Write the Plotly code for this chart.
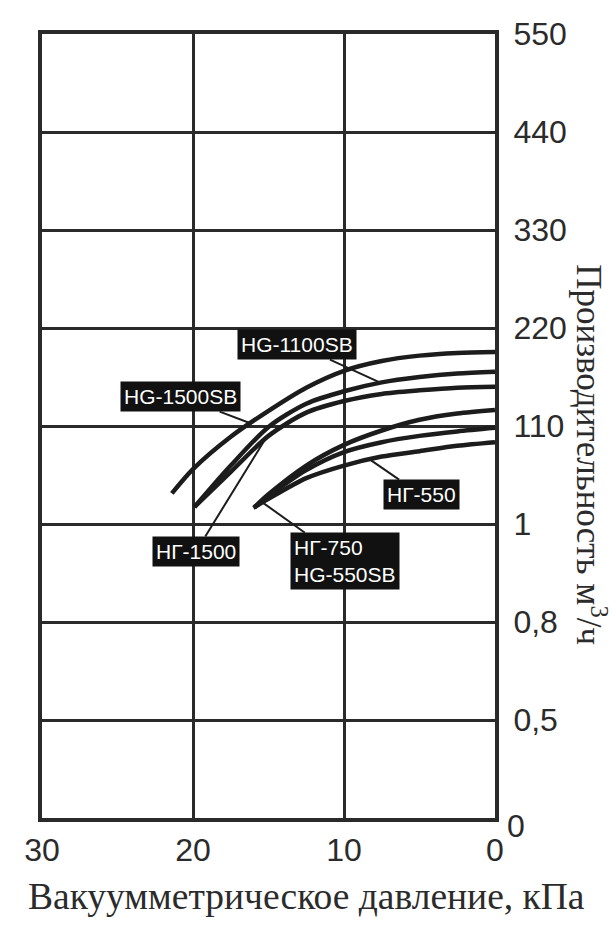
import numpy as np
import plotly.graph_objects as go

# Flow-rate axis: the labels are spaced evenly, not proportionally
flow_ticks = [0, 0.5, 0.8, 1, 110, 220, 330, 440, 550]
flow_tick_text = ["", "0,5", "0,8", "1", "110", "220", "330", "440", "550"]
pressure_ticks = [30, 20, 10, 0]

# Pump curves: vacuum pressure (kPa) -> capacity (m³/h)
hg1500sb_p = [21.4, 20, 17.5, 15, 12.5, 10, 7.5, 5, 2.5, 0]
hg1500sb_q = [35, 62, 98, 127, 153, 172, 183, 189, 192, 193]

hg1100sb_p = [19.9, 17.5, 15, 12.5, 10, 7.5, 5, 2.5, 0]
hg1100sb_q = [20, 66, 109, 135, 149, 159, 165, 169, 171]

ng1500_p = [19.9, 17.5, 15, 12.5, 10, 7.5, 5, 2.5, 0]
ng1500_q = [20, 59, 99, 125, 138, 146, 150, 153, 154]

ng750_p = [15.9, 15, 12.5, 10, 7.5, 5, 2.5, 0]
ng750_q = [20, 34, 66, 89, 105, 117, 124, 128]

hg550sb_p = [15.9, 15, 12.5, 10, 7.5, 5, 2.5, 0]
hg550sb_q = [20, 32, 61, 81, 92, 99, 104, 108]

ng550_p = [16.0, 15, 12.5, 10, 7.5, 5, 2.5, 0]
ng550_q = [19, 29, 52, 66, 76, 82, 88, 92]

tick_pos = np.arange(len(flow_ticks))


def flow_to_axis(q):
    """Map capacity values onto the evenly spaced flow axis."""
    return np.interp(q, flow_ticks, tick_pos)


def point_on(p_list, q_list, p):
    """Axis position of a curve at pressure p."""
    p_arr = np.array(p_list)[::-1]
    q_arr = np.array(q_list)[::-1]
    return float(flow_to_axis(np.interp(p, p_arr, q_arr)))


INK = "#1c1c1c"
GRID = "#2a2a2a"
TEXT = "#2b2b2b"
SANS = "Liberation Sans, Arial, sans-serif"
SERIF = "Liberation Serif, Times New Roman, serif"

fig = go.Figure()
for p, q in [
    (hg1500sb_p, hg1500sb_q),
    (hg1100sb_p, hg1100sb_q),
    (ng1500_p, ng1500_q),
    (ng750_p, ng750_q),
    (hg550sb_p, hg550sb_q),
    (ng550_p, ng550_q),
]:
    fig.add_trace(
        go.Scatter(
            x=p,
            y=flow_to_axis(q),
            mode="lines",
            line=dict(color=INK, width=4.5, shape="spline", smoothing=0.8),
            hoverinfo="skip",
            showlegend=False,
        )
    )

label_font = dict(family=SANS, size=21, color="white")


def callout(text, p_target, curve, p_label, pos_label, align="center"):
    fig.add_annotation(
        x=p_target,
        y=point_on(curve[0], curve[1], p_target),
        ax=p_label,
        ay=pos_label,
        xref="x",
        yref="y",
        axref="x",
        ayref="y",
        text=text,
        showarrow=True,
        arrowhead=0,
        arrowwidth=2,
        arrowcolor=INK,
        bgcolor="#111111",
        borderpad=3,
        font=label_font,
        align=align,
    )


callout("HG-1100SB", 7.6, (hg1100sb_p, hg1100sb_q), 13.1, 4.83)
callout("HG-1500SB", 16.2, (hg1500sb_p, hg1500sb_q), 20.85, 4.30)
callout("НГ-1500", 15.2, (ng1500_p, ng1500_q), 19.8, 2.72)
callout("НГ-550", 8.3, (ng550_p, ng550_q), 4.9, 3.30)
callout("НГ-750<br>HG-550SB", 15.5, (ng750_p, ng750_q), 9.95, 2.62, align="left")

# Zero of the flow axis, set slightly off the corner
fig.add_annotation(
    x=1, xref="paper", xanchor="left", xshift=10,
    y=0, yref="y", yanchor="middle", yshift=-8,
    text="0", showarrow=False,
    font=dict(family=SANS, size=32, color=TEXT),
)

# Vertical axis title, reading top to bottom
fig.add_annotation(
    x=1, xref="paper", xanchor="center", xshift=96,
    y=0.464, yref="paper", yanchor="middle",
    text="Производительность м<sup>3</sup>/ч",
    textangle=90, showarrow=False,
    font=dict(family=SERIF, size=35, color=TEXT),
)

# Horizontal axis title
fig.add_annotation(
    x=0.584, xref="paper", xanchor="center",
    y=0, yref="paper", yanchor="middle", yshift=-78,
    text="Вакуумметрическое давление, кПа",
    showarrow=False,
    font=dict(family=SERIF, size=37.5, color=TEXT),
)

fig.update_xaxes(
    range=[30, 0],
    tickvals=pressure_ticks,
    ticktext=[str(v) for v in pressure_ticks],
    ticks="",
    ticklabelstandoff=1,
    tickfont=dict(family=SANS, size=32, color=TEXT),
    showgrid=True, gridcolor=GRID, gridwidth=3,
    showline=True, linecolor=GRID, linewidth=4, mirror=True,
    zeroline=False,
)
fig.update_yaxes(
    side="right",
    range=[0, 8],
    tickvals=list(tick_pos),
    ticktext=flow_tick_text,
    ticks="",
    ticklabelstandoff=8,
    tickfont=dict(family=SANS, size=32, color=TEXT),
    showgrid=True, gridcolor=GRID, gridwidth=3,
    showline=True, linecolor=GRID, linewidth=4, mirror=True,
    zeroline=False,
)

fig.update_layout(
    width=616,
    height=946,
    margin=dict(l=42, r=121, t=34, b=128),
    paper_bgcolor="white",
    plot_bgcolor="white",
)

fig.write_html("out.html")
